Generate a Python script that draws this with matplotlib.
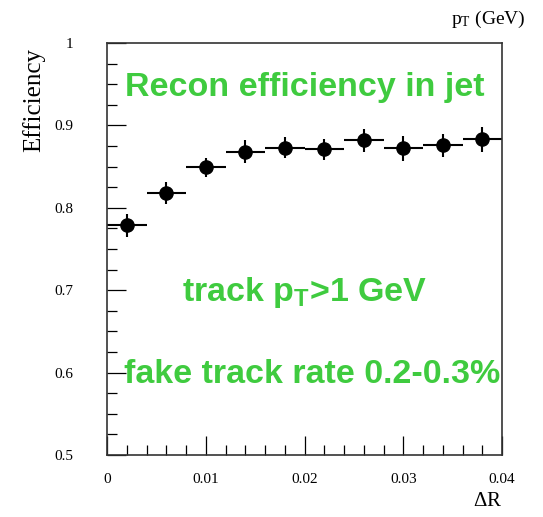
import matplotlib
matplotlib.use("Agg")
import matplotlib.pyplot as plt
from matplotlib.ticker import MultipleLocator

# Data
dr_centers = [0.002, 0.006, 0.010, 0.014, 0.018, 0.022, 0.026, 0.030, 0.034, 0.038]
dr_halfwidth = [0.002] * 10
efficiency = [0.779, 0.818, 0.849, 0.868, 0.873, 0.871, 0.882, 0.872, 0.876, 0.883]
eff_err = [0.014, 0.013, 0.012, 0.014, 0.013, 0.013, 0.014, 0.015, 0.014, 0.015]
xticks = [0, 0.01, 0.02, 0.03, 0.04]
xticklabels = ["0", "0.01", "0.02", "0.03", "0.04"]
yticks = [0.5, 0.6, 0.7, 0.8, 0.9, 1.0]
yticklabels = ["0.5", "0.6", "0.7", "0.8", "0.9", "1"]

green = "#3fcb3f"
serif = ["Liberation Serif", "DejaVu Serif"]

fig = plt.figure(figsize=(5.43, 5.17), dpi=100)
W, H = 543, 517
ax = fig.add_axes([107 / W, 1 - 455 / H, (502 - 107) / W, (455 - 43) / H])

ax.errorbar(dr_centers, efficiency, xerr=dr_halfwidth, yerr=eff_err,
            fmt="o", color="black", markersize=9.5, elinewidth=1.5, capsize=0)

ax.set_xlim(0, 0.04)
ax.set_ylim(0.5, 1.0)
ax.set_xticks(xticks)
ax.set_xticklabels(xticklabels, fontfamily=serif, fontsize=11)
ax.set_yticks(yticks)
ax.set_yticklabels(yticklabels, fontfamily=serif, fontsize=11)
ax.xaxis.set_minor_locator(MultipleLocator(0.002))
ax.yaxis.set_minor_locator(MultipleLocator(0.025))
ax.tick_params(which="major", direction="in", length=14, width=0.9,
               top=False, right=False)
ax.tick_params(which="minor", direction="in", length=7, width=0.9,
               top=False, right=False)
ax.tick_params(axis="x", pad=13)
ax.tick_params(axis="y", pad=24)
for s in ax.spines.values():
    s.set_linewidth(1.2)
    s.set_color("#333333")

fig.text(34 / W, 1 - 100 / H, "Efficiency", rotation=90, ha="center", va="center",
         fontfamily=serif, fontsize=18)
fig.text(526 / W, 1 - 19 / H, r"$\mathregular{p_T}$ (GeV)", ha="right", va="center",
         fontfamily=serif, fontsize=14)
fig.text(488 / W, 1 - 502 / H, r"$\mathregular{\Delta R}$", ha="center", va="center",
         fontfamily=serif, fontsize=15)

txt_kw = dict(transform=ax.transAxes, ha="center", va="center", color=green,
              fontsize=24.5, fontweight="bold", fontfamily="Liberation Sans")
ax.text(0.50, 0.892, "Recon efficiency in jet", **txt_kw)
ax.text(0.50, 0.395, r"track p$\mathregular{_T}$>1 GeV", **txt_kw)
ax.text(0.52, 0.195, "fake track rate 0.2-0.3%", **txt_kw)

fig.savefig("out.png", dpi=100)
